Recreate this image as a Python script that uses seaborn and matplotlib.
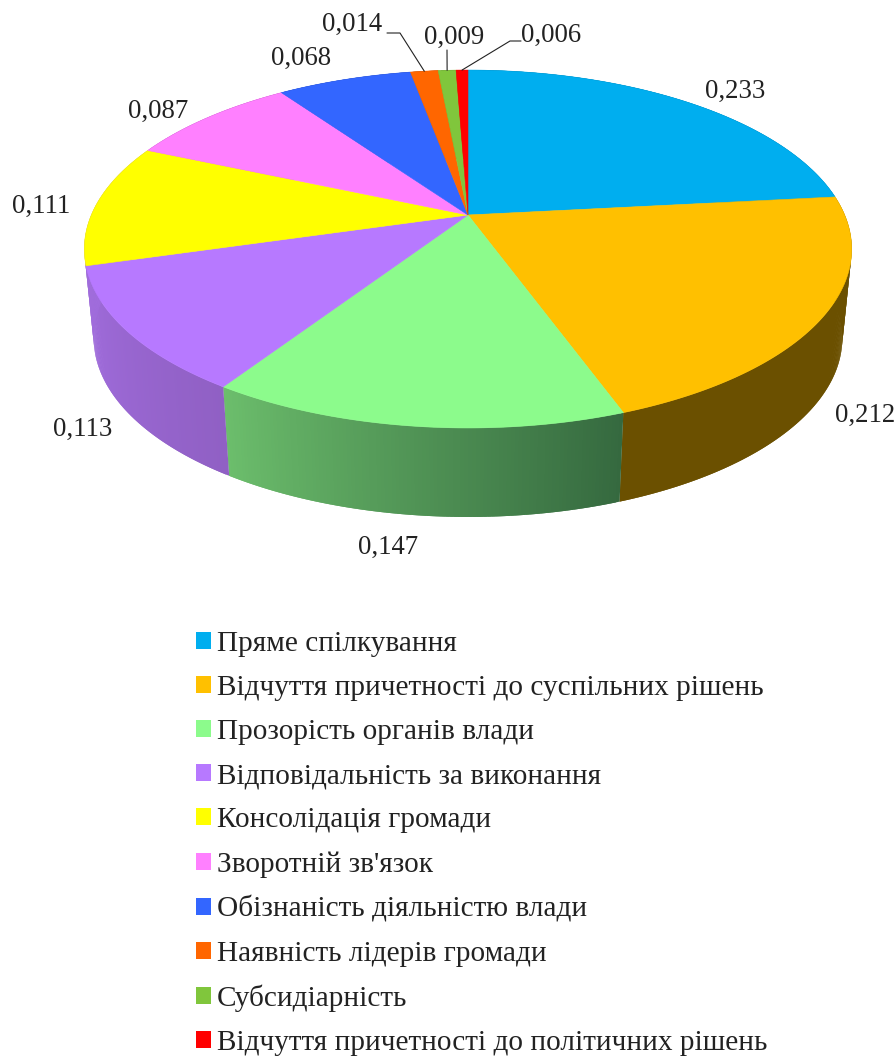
import numpy as np
import matplotlib
matplotlib.use("Agg")
import matplotlib.pyplot as plt
from matplotlib.patches import Patch
import seaborn as sns

categories = ["Пряме спілкування", "Відчуття причетності до суспільних рішень",
              "Прозорість органів влади", "Відповідальність за виконання",
              "Консолідація громади", "Зворотній зв'язок",
              "Обізнаність діяльністю влади", "Наявність лідерів громади",
              "Субсидіарність", "Відчуття причетності до політичних рішень"]
values = [0.233, 0.212, 0.147, 0.113, 0.111, 0.087, 0.068, 0.014, 0.009, 0.006]
value_labels = ["0,233", "0,212", "0,147", "0,113", "0,111", "0,087", "0,068", "0,014", "0,009", "0,006"]
top_colors = ["#00AEEF", "#FFC000", "#8CFB8C", "#B779FF", "#FFFF00",
              "#FF80FF", "#3366FF", "#FF6600", "#80C63C", "#FF0000"]
wall_left = ["#005A80", "#6B5000", "#6CBE6C", "#A06CDC", "#A06CDC",
             "#804080", "#1A3380", "#803300", "#406020", "#800000"]
wall_right = ["#005A80", "#6B5000", "#35693F", "#9060C4", "#A06CDC",
              "#804080", "#1A3380", "#803300", "#406020", "#800000"]

# layout (pixels)
label_pos = [(735, 91), (865, 415), (388, 547), (83, 429), (41, 206),
             (158, 111), (301, 58), (352, 24), (454, 37), (551, 35)]
leader_elbows = {7: [(387, 33), (400, 33)], 8: [(447, 50)], 9: [(521, 41), (510, 41)]}
FONT = ["Liberation Serif", "DejaVu Serif"]
FS = 19.3
LEGEND_FS = 21.1

sns.set_theme(style="white")
plt.rcParams["font.family"] = FONT


def project(theta, cx=468.0, cy=215.0, R=376.7, H=172.5, k=0.19):
    """Perspective view of the unit circle; theta runs clockwise from the top."""
    u, v = np.sin(theta), np.cos(theta)
    w = 1 + k * v
    return cx + R * u / w, cy - H * v / w


def project_base(theta):
    return project(theta, cx=468.0, cy=304.0, R=367.5, H=172.5)


fig = plt.figure(figsize=(8.96, 10.59), dpi=100)
ax = fig.add_axes([0, 0, 1, 1])
ax.set_xlim(0, 896)
ax.set_ylim(1059, 0)
ax.axis("off")

edges = 2 * np.pi * np.concatenate([[0], np.cumsum(values)])

# side wall: overlapping strips, painted so no seams appear
for i in range(len(values)):
    a0, a1 = edges[i], edges[i + 1]
    n = max(2, int((a1 - a0) * 120))
    ts = np.linspace(a0, a1, n + 1)
    c0 = np.array(matplotlib.colors.to_rgb(wall_left[i]))
    c1 = np.array(matplotlib.colors.to_rgb(wall_right[i]))
    for j in range(n):
        t = np.linspace(ts[j], ts[j + 1], 4)
        if j < n - 1:
            t = np.linspace(ts[j], ts[j + 2], 6)
        xt, yt = project(t)
        xb, yb = project_base(t)
        f = 1 - (j + 0.5) / n  # clockwise runs right to left on the front
        col = c0 + (c1 - c0) * f
        ax.fill(np.r_[xt, xb[::-1]], np.r_[yt, yb[::-1]],
                facecolor=col, edgecolor="none", zorder=2 + i * 0.01)

# top face
for i in range(len(values)):
    t = np.linspace(edges[i], edges[i + 1], 200)
    x, y = project(t)
    ax.fill(np.r_[468.0, x], np.r_[215.0, y], facecolor=top_colors[i],
            edgecolor=top_colors[i], lw=0.4, zorder=3)

# value labels and leaders
for i, (txt, pos) in enumerate(zip(value_labels, label_pos)):
    ax.text(pos[0], pos[1], txt, ha="center", va="center", fontsize=FS,
            color="#222222", zorder=5)
    if i in leader_elbows:
        mid = (edges[i] + edges[i + 1]) / 2
        ex, ey = project(mid)
        pts = leader_elbows[i] + [(float(ex), float(ey))]
        ax.plot([p[0] for p in pts], [p[1] for p in pts], color="#222222", lw=0.8, zorder=4)

handles = [Patch(facecolor=c, edgecolor="none") for c in top_colors]
leg = ax.legend(handles, categories, loc="upper left", bbox_to_anchor=(196 / 896, 1 - 631 / 1059),
                frameon=False, prop={"family": FONT, "size": LEGEND_FS}, labelcolor="#222222",
                handlelength=0.5, handleheight=0.5, handletextpad=0.2,
                labelspacing=0.615, borderpad=0, borderaxespad=0)

fig.savefig("out.png", dpi=100)
